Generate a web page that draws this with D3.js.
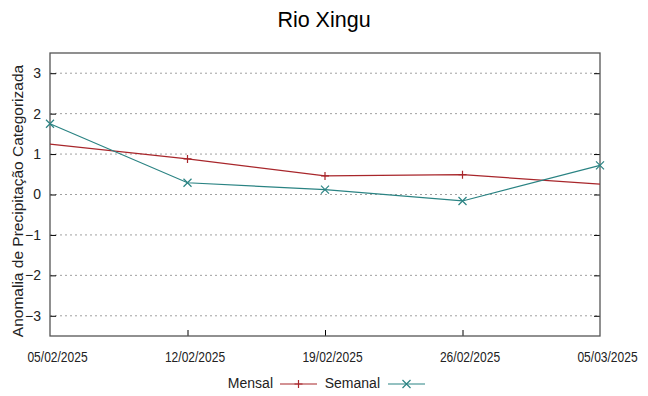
<!DOCTYPE html>
<html><head><meta charset="utf-8">
<script src="https://cdn.jsdelivr.net/npm/d3@7"></script>
<style>body{margin:0;background:#fff}svg{display:block}</style>
</head><body>
<svg id="c" width="648" height="396"></svg>
<script>
const title = "Rio Xingu";
const yLabel = "Anomalia de Precipitação Categorizada";
const dates = ["05/02/2025","12/02/2025","19/02/2025","26/02/2025","05/03/2025"];
const mensal = [1.245, 0.88, 0.46, 0.49, 0.255];
const mensalMarked = [false, true, true, true, false];
const semanal = [1.75, 0.29, 0.12, -0.16, 0.72];
const yTicks = [-3,-2,-1,0,1,2,3];

const parse = d3.timeParse("%d/%m/%Y");
const svg = d3.select("#c");
const L = 50, R = 600, T = 53, B = 336;
const x = d3.scaleTime().domain([parse(dates[0]), parse(dates[dates.length-1])]).range([L, R]);
const y = d3.scaleLinear().domain([-3.5, 3.5]).range([B, T]);
const red = "#a8262b", teal = "#2a8383";
const font = "Liberation Sans, Arial, sans-serif";

svg.append("text").attr("x", 324).attr("y", 27).attr("text-anchor","middle")
  .attr("font-family", font).attr("font-size", 21.5).attr("fill","#000").text(title);

// grid
svg.append("g").selectAll("line").data(yTicks).join("line")
  .attr("x1", L).attr("x2", R).attr("y1", d=>y(d)).attr("y2", d=>y(d))
  .attr("stroke","#a0a0a0").attr("stroke-width",1).attr("stroke-dasharray","2,3");

// y axes (ticks inward)
const yl = svg.append("g").attr("transform",`translate(${L},0)`)
  .call(d3.axisLeft(y).tickValues(yTicks).tickSize(-6).tickPadding(15).tickFormat(d3.format("d")));
yl.select(".domain").remove();
yl.selectAll("text").attr("font-family", font).attr("font-size", 14).attr("fill","#222").attr("x",-9);
yl.selectAll("line").attr("stroke","#000");
const yr = svg.append("g").attr("transform",`translate(${R},0)`)
  .call(d3.axisRight(y).tickValues(yTicks).tickSize(-6).tickFormat(""));
yr.select(".domain").remove();
yr.selectAll("line").attr("stroke","#000");

// x axis
const xt = dates.map(parse);
const xa = svg.append("g").attr("transform",`translate(0,${B})`)
  .call(d3.axisBottom(x).tickValues(xt).tickSize(-6).tickPadding(0).tickFormat(d3.timeFormat("%d/%m/%Y")));
xa.select(".domain").remove();
xa.selectAll("line").attr("stroke","#000").filter((d,i)=>i===0||i===xt.length-1).remove();
xa.selectAll("text").attr("font-family", font)
  .attr("font-size", 14.5).attr("fill","#222").attr("dy", null).attr("y", null).attr("x", null)
  .attr("transform", "translate(7,26) scale(0.83,1)");

// border
svg.append("rect").attr("x",L).attr("y",T).attr("width",R-L).attr("height",B-T)
  .attr("fill","none").attr("stroke","#555").attr("stroke-width",1.3);

const line = d3.line().x((d,i)=>x(parse(dates[i]))).y(d=>y(d));
svg.append("path").datum(mensal).attr("d", line).attr("fill","none").attr("stroke",red).attr("stroke-width",1.2);
svg.append("path").datum(semanal).attr("d", line).attr("fill","none").attr("stroke",teal).attr("stroke-width",1.2);

const s = 4;
mensal.forEach((v,i)=>{
  if(!mensalMarked[i]) return;
  const cx = x(parse(dates[i])), cy = y(v);
  svg.append("path").attr("d",`M${cx-s},${cy}H${cx+s}M${cx},${cy-s}V${cy+s}`).attr("stroke",red).attr("stroke-width",1.2);
});
semanal.forEach((v,i)=>{
  const cx = x(parse(dates[i])), cy = y(v);
  svg.append("path").attr("d",`M${cx-s},${cy-s}L${cx+s},${cy+s}M${cx-s},${cy+s}L${cx+s},${cy-s}`).attr("stroke",teal).attr("stroke-width",1.2);
});

// y label
svg.append("text").attr("transform","translate(23,201) rotate(-90)").attr("text-anchor","middle")
  .attr("font-family", font).attr("font-size", 15.5).attr("fill","#222").text(yLabel);

// legend
const lg = svg.append("g").attr("font-family", font).attr("font-size", 14).attr("fill","#222");
lg.append("text").attr("x",273).attr("y",388).attr("text-anchor","end").text("Mensal");
lg.append("line").attr("x1",280).attr("x2",317).attr("y1",384).attr("y2",384).attr("stroke",red).attr("stroke-width",1.2);
lg.append("path").attr("d",`M${298.5-s},384H${298.5+s}M298.5,${384-s}V${384+s}`).attr("stroke",red).attr("stroke-width",1.2);
lg.append("text").attr("x",380).attr("y",388).attr("text-anchor","end").text("Semanal");
lg.append("line").attr("x1",388).attr("x2",425).attr("y1",384).attr("y2",384).attr("stroke",teal).attr("stroke-width",1.2);
lg.append("path").attr("d",`M${406.5-s},${384-s}L${406.5+s},${384+s}M${406.5-s},${384+s}L${406.5+s},${384-s}`).attr("stroke",teal).attr("stroke-width",1.2);
</script>
</body></html>
